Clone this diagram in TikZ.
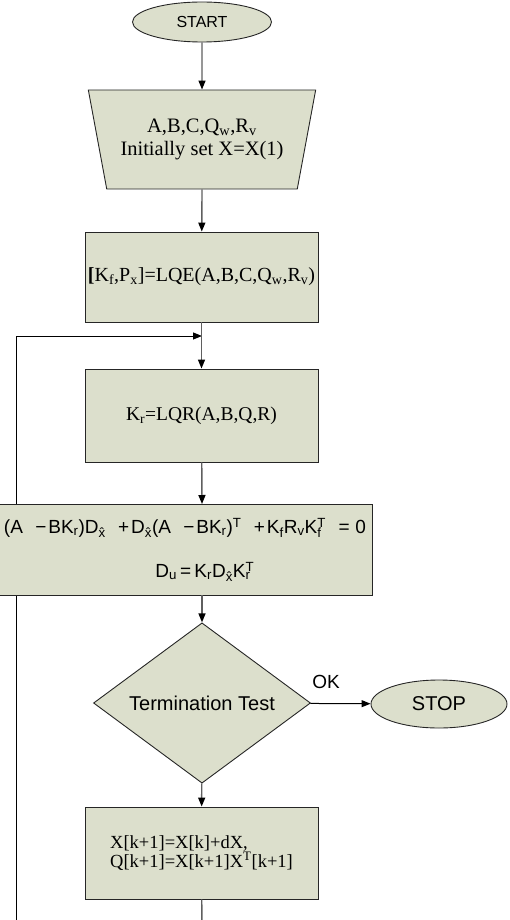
\documentclass[tikz,border=0pt]{standalone}
\usepackage{fontspec}
\setmainfont{Liberation Serif}
\setsansfont{Liberation Sans}
\usetikzlibrary{shapes.geometric,arrows.meta}
\definecolor{boxfill}{RGB}{220,223,204}
\definecolor{conn}{RGB}{95,95,95}
\newcommand\sbs[1]{\textsubscript{#1}}
\newcommand\sps[1]{\textsuperscript{#1}}
\newcommand\spsb[2]{\rlap{\textsuperscript{#1}}\textsubscript{#2}}
\newcommand\opgap{\hspace{0.65em}}
\newcommand\aftgap{\hspace{0.1em}}
\pgfdeclarelayer{bg}
\pgfsetlayers{bg,main}
\tikzset{
  shapebase/.style={draw=black!85,line width=0.9pt,fill=boxfill,inner sep=0pt},
  procbox/.style={shapebase,rectangle,minimum width=233pt,align=center},
  term/.style={shapebase,ellipse,font=\sffamily},
  conline/.style={draw=conn,line width=1.4pt,-{Triangle[length=9pt,width=7pt,color=black]}},
  loopline/.style={draw=black,line width=1pt,-{Triangle[length=9pt,width=7pt,color=black]}},
}
\begin{document}
\begin{tikzpicture}[x=1pt,y=-1pt]
\useasboundingbox (0,0) rectangle (509,920);
\clip (0,0) rectangle (509,920);
\node[term,minimum width=139pt,minimum height=40pt,font=\sffamily\fontsize{16}{19}\selectfont] (start) at (202,22) {START};
\node[shapebase,trapezium,trapezium stretches=true,shape border rotate=180,trapezium angle=69,minimum width=228pt,minimum height=99pt,align=center,font=\fontsize{20.5}{23}\selectfont] (init) at (202,139.5) {A,B,C,Q\sbs{w},R\sbs{v}\\Initially set X=X(1)};
\node[procbox,minimum height=90pt,font=\fontsize{20}{23}\selectfont] (lqe) at (201.5,277) {\textbf{[}K\sbs{f},P\sbs{x}]=LQE(A,B,C,Q\sbs{w},R\sbs{v})};
\node[procbox,minimum height=93pt,font=\fontsize{19.5}{23}\selectfont] (kr) at (201.5,415.5) {K\sbs{r}=LQR(A,B,Q,R)};
\node[shapebase,rectangle,minimum width=374pt,minimum height=91pt,align=center,font=\sffamily\fontsize{19}{44}\selectfont] (ric) at (185,549.5) {(A\opgap−\aftgap BK\sbs{r})D\sbs{\^x}\opgap+\aftgap D\sbs{\^x}(A\opgap−\aftgap BK\sbs{r})\sps{T}\opgap+\aftgap K\sbs{f}R\sbs{v}K\spsb{T}{f}\hspace{0.9em}=\hspace{0.3em}0\\\hspace{36pt}D\sbs{u}\,=\,K\sbs{r}D\sbs{\^x}K\spsb{T}{r}};
\node[shapebase,diamond,minimum width=217pt,minimum height=117pt,font=\sffamily\fontsize{20}{23}\selectfont] (test) at (202,703) {Termination Test};
\node[term,minimum width=136pt,minimum height=48pt,font=\sffamily\fontsize{20}{23}\selectfont] (stop) at (439,704) {STOP};
\node[procbox,minimum height=92pt,align=left,font=\fontsize{18.5}{17}\selectfont] (fin) at (201.5,853) {X[k+1]=X[k]+dX,\\Q[k+1]=X[k+1]X\sps{T}[k+1]};
\node[font=\sffamily\fontsize{19}{22}\selectfont,inner sep=0pt] (ok) at (326,682) {OK};
\coordinate (join) at (202,336);
\draw[conline] (start) -- (init.north);
\draw[conline] (init.south) -- (lqe);
\draw[conline] (lqe) -- (kr);
\draw[conline] (kr) -- (202,504);
\draw[conline] (202,595) -- (test);
\draw[conline] (test) -- (fin);
\draw[draw=black,line width=1pt,-{Triangle[length=9pt,width=7pt,color=black]}] (test) -- (stop);
\draw[conn,line width=1.4pt] (fin) -- (202,940);
\begin{pgfonlayer}{bg}
\draw[loopline] (16,940) -- (16,336) -- (join);
\end{pgfonlayer}
\end{tikzpicture}
\end{document}
